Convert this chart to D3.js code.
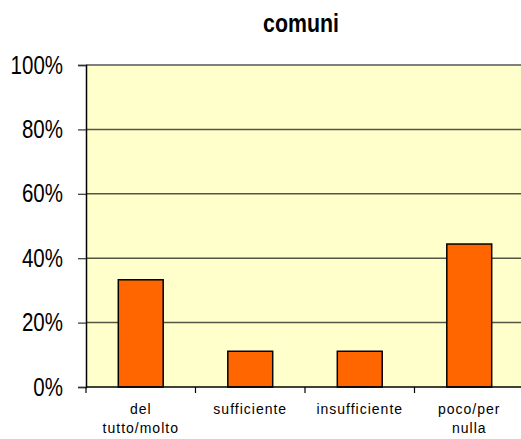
<!DOCTYPE html>
<html>
<head>
<meta charset="utf-8">
<script src="https://cdn.jsdelivr.net/npm/d3@7"></script>
<style>
  body { margin: 0; background: #fff; }
  svg { display: block; }
</style>
</head>
<body>
<svg id="chart" width="521" height="439"></svg>
<script>
// data
var categories = ["del tutto/molto", "sufficiente", "insufficiente", "poco/per nulla"];
var labelLines = [["del", "tutto/molto"], ["sufficiente"], ["insufficiente"], ["poco/per", "nulla"]];
var values = [0.333, 0.111, 0.111, 0.444];
var yTicks = [0, 0.2, 0.4, 0.6, 0.8, 1];
var title = "comuni";

var svg = d3.select("#chart");
var plotL = 86, plotR = 524, plotT = 65, plotB = 387;
var squeeze = 0.82; // no narrow font installed, so condense by hand
var font = '"Liberation Sans", Arial, sans-serif';

var x = d3.scaleBand()
    .domain(categories)
    .range([plotL, plotR])
    .paddingInner(0.59)
    .paddingOuter(0.295);

var slot = d3.scaleBand().domain(categories).range([plotL, plotR]).padding(0);

var y = d3.scaleLinear().domain([0, 1]).range([plotB, plotT]);

// plot background
svg.append("rect")
    .attr("x", plotL).attr("y", plotT)
    .attr("width", plotR - plotL).attr("height", plotB - plotT)
    .attr("fill", "#ffffcc");

// gridlines
svg.append("g").selectAll("line")
    .data(yTicks.filter(function (d) { return d > 0 && d < 1; }))
    .enter().append("line")
    .attr("x1", plotL).attr("x2", plotR)
    .attr("y1", function (d) { return y(d); })
    .attr("y2", function (d) { return y(d); })
    .attr("stroke", "#555544")
    .attr("stroke-width", 1.5);

// top border of the plot
svg.append("line")
    .attr("x1", plotL).attr("x2", plotR)
    .attr("y1", y(1)).attr("y2", y(1))
    .attr("stroke", "#808080")
    .attr("stroke-width", 2);

// bars
svg.append("g").selectAll("rect")
    .data(values)
    .enter().append("rect")
    .attr("x", function (d, i) { return x(categories[i]); })
    .attr("y", function (d) { return y(d); })
    .attr("width", x.bandwidth())
    .attr("height", function (d) { return plotB - y(d); })
    .attr("fill", "#ff6600")
    .attr("stroke", "#000")
    .attr("stroke-width", 1.5);

// y axis
var yAxis = svg.append("g")
    .attr("transform", "translate(" + plotL + ",0)")
    .call(d3.axisLeft(y).tickValues(yTicks).tickFormat(d3.format(".0%"))
        .tickSize(8).tickPadding(15));
yAxis.select(".domain").attr("stroke", "#000").attr("stroke-width", 1.5);
yAxis.selectAll(".tick line").attr("stroke", "#333").attr("stroke-width", 1.2);
yAxis.selectAll("text")
    .attr("fill", "#000")
    .attr("x", -23 / squeeze)
    .attr("transform", "scale(" + squeeze + ",1)")
    .style("font-family", font)
    .style("font-size", "25px");

// x axis line and ticks between categories
var xAxis = svg.append("g");
xAxis.append("line")
    .attr("x1", plotL).attr("x2", plotR)
    .attr("y1", plotB).attr("y2", plotB)
    .attr("stroke", "#000").attr("stroke-width", 1.5);
xAxis.selectAll(".xt")
    .data(categories)
    .enter().append("line")
    .attr("class", "xt")
    .attr("x1", function (d) { return slot(d); })
    .attr("x2", function (d) { return slot(d); })
    .attr("y1", plotB).attr("y2", plotB + 6)
    .attr("stroke", "#000").attr("stroke-width", 1.2);

// category labels
var lbl = svg.append("g").selectAll("text")
    .data(categories)
    .enter().append("text")
    .attr("x", function (d) { return x(d) + x.bandwidth() / 2; })
    .attr("y", 414)
    .attr("text-anchor", "middle")
    .style("font-family", font)
    .style("font-size", "14px")
    .style("letter-spacing", "1px")
    .attr("fill", "#000");
lbl.each(function (d, i) {
    var t = d3.select(this);
    labelLines[i].forEach(function (line, k) {
        t.append("tspan")
            .attr("x", x(d) + x.bandwidth() / 2)
            .attr("dy", k === 0 ? 0 : 19)
            .text(line);
    });
});

// title
svg.append("text")
    .attr("x", 301 / squeeze)
    .attr("y", 32)
    .attr("transform", "scale(" + squeeze + ",1)")
    .attr("text-anchor", "middle")
    .style("font-family", font)
    .style("font-size", "26px")
    .style("font-weight", "bold")
    .attr("fill", "#000")
    .text(title);
</script>
</body>
</html>
